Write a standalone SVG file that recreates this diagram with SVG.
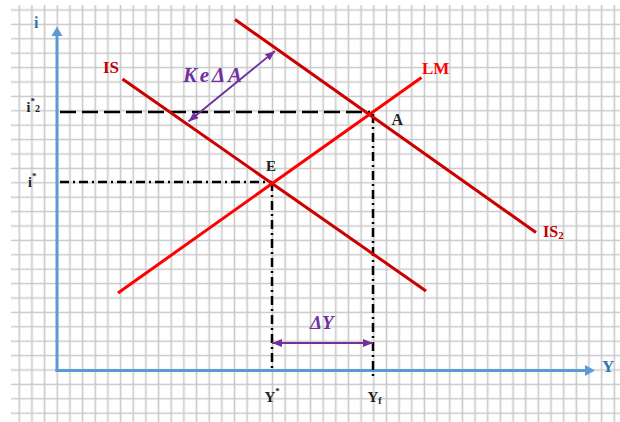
<svg xmlns="http://www.w3.org/2000/svg" width="620" height="422" viewBox="0 0 620 422">
<style>
.lbl{font-family:"Liberation Serif","DejaVu Serif",serif;font-weight:bold}
.ax{fill:#2e75b6}
.dark{fill:#c00000}
.bright{fill:#ff0000}
.blk{fill:#222}
.pur{font-family:"Liberation Serif","DejaVu Serif",serif;font-weight:bold;font-style:italic;fill:#7030a0}
.guide{stroke:#000;stroke-width:2.5;fill:none}
.dd{stroke-dasharray:9 4 2 4}
.purl{stroke:#7030a0;stroke-width:1.8;marker-start:url(#ph);marker-end:url(#ph)}
</style>
<defs>
<pattern id="grid" patternUnits="userSpaceOnUse" x="12.97" y="2.8" width="12.66" height="14.4">
<path d="M6.33 0V14.4M0 7.2H12.66" stroke="#c9c9c9" stroke-width="1.6" fill="none"/>
</pattern>
<marker id="ph" viewBox="0 0 10 8" refX="10" refY="4" markerWidth="10" markerHeight="8" markerUnits="userSpaceOnUse" orient="auto-start-reverse">
<path d="M0,0 L10,4 L0,8 z" fill="#7030a0"/>
</marker>
</defs>
<rect width="620" height="422" fill="#fff"/>
<rect x="11" y="5" width="609" height="417" fill="url(#grid)"/>

<g id="axes">
<line x1="57" y1="372" x2="57" y2="35" stroke="#5b9bd5" stroke-width="3"/>
<polygon points="57,26.5 51.5,36 62.5,36" fill="#5b9bd5"/>
<line x1="55.5" y1="370.5" x2="586" y2="370.5" stroke="#5b9bd5" stroke-width="3"/>
<polygon points="595,370.5 585,365 585,376" fill="#5b9bd5"/>
<text class="lbl ax" x="34" y="28" font-size="16">i</text>
<text class="lbl ax" x="602" y="372" font-size="17">Y</text>
</g>

<g id="connectors">
<line class="guide" x1="60" y1="112" x2="370" y2="112" stroke-dasharray="16 6"/>
<line class="guide dd" x1="60" y1="182" x2="272" y2="182"/>
<line class="guide dd" x1="272" y1="182" x2="272" y2="372"/>
<line class="guide dd" x1="373" y1="114" x2="373" y2="376"/>
<line class="purl" x1="188.5" y1="121.5" x2="275" y2="51"/>
<line class="purl" x1="272" y1="343" x2="373" y2="343"/>
</g>

<g id="IS">
<line x1="122.5" y1="79" x2="426" y2="291" stroke="#cc0000" stroke-width="3"/>
<text class="lbl dark" x="103" y="73" font-size="17">IS</text>
</g>
<g id="IS2">
<line x1="235" y1="19.5" x2="536" y2="232.5" stroke="#cc0000" stroke-width="3"/>
<text class="lbl dark" x="543" y="237" font-size="16">IS<tspan font-size="11" dy="2">2</tspan></text>
</g>
<g id="LM">
<line x1="118" y1="293" x2="421.5" y2="77.5" stroke="#ff0000" stroke-width="3"/>
<text class="lbl bright" x="422" y="73.5" font-size="17">LM</text>
</g>
<g id="E">
<text class="lbl blk" x="266" y="171" font-size="15">E</text>
</g>
<g id="A">
<text class="lbl blk" x="391.5" y="125" font-size="16">A</text>
</g>
<g id="labels">
<text class="pur" x="183" y="81.5" font-size="21" textLength="59" lengthAdjust="spacing">KeΔA</text>
<text class="pur" x="310" y="328.5" font-size="19">ΔY</text>
<text class="lbl blk" x="26.5" y="112" font-size="14">i<tspan font-size="9" dy="-8">*</tspan><tspan font-size="10" dy="8">2</tspan></text>
<text class="lbl blk" x="28" y="187" font-size="14">i<tspan font-size="9" dy="-8">*</tspan></text>
<text class="lbl blk" x="264.5" y="402" font-size="15">Y<tspan font-size="9" dy="-8">*</tspan></text>
<text class="lbl blk" x="367.5" y="402" font-size="15">Y<tspan font-size="10" dy="2">f</tspan></text>
</g>
</svg>
